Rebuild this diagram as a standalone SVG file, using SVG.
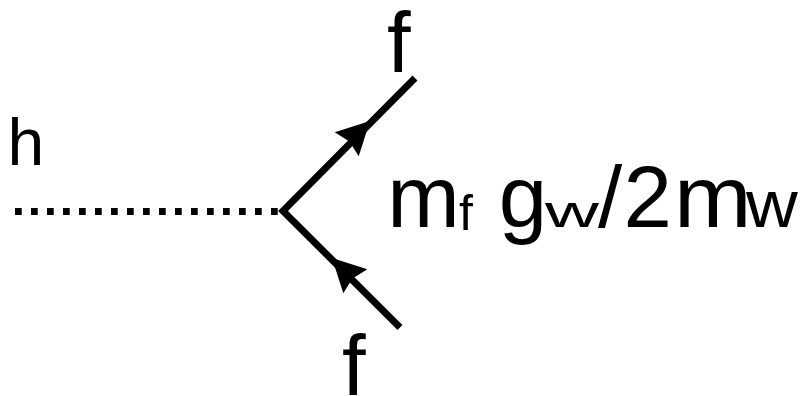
<svg xmlns="http://www.w3.org/2000/svg" width="803" height="396" viewBox="0 0 803 396">
<style>
.t{font-family:"Liberation Sans",Arial,sans-serif;fill:#000}
.ln{fill:none;stroke:#000;stroke-width:7;stroke-linecap:butt;stroke-linejoin:miter}
.dot{fill:none;stroke:#000;stroke-width:7;stroke-dasharray:6.7 9.3}
</style>
<defs>
<path id="ah" d="M0,0 L-33,-17 L-29,0 L-33,17 Z" fill="#000"/>
</defs>
<rect width="803" height="396" fill="#fff"/>
<g id="connectors">
<line class="dot" x1="15" y1="211.5" x2="281" y2="211.5"/>
<path class="ln" d="M415,78 L283,211 L400,327.5"/>
<use href="#ah" transform="translate(370,121) rotate(-45)"/>
<use href="#ah" transform="translate(332,258) rotate(-135)"/>
</g>
<g id="node-h"><text class="t" x="7.5" y="165" font-size="66">h</text></g>
<g id="node-f-top"><text class="t" x="387" y="72" font-size="85">f</text></g>
<g id="node-f-bottom"><text class="t" x="342" y="395" font-size="85">f</text></g>
<g id="label">
<text class="t" x="387.3" y="227" font-size="87">m</text>
<text class="t" x="459" y="230" font-size="50">f</text>
<text class="t" x="498.7" y="227" font-size="87">g</text>
<text class="t" transform="translate(545,227) scale(1.66,1)" font-size="45">w</text>
<text class="t" x="598" y="227" font-size="87">/</text>
<text class="t" x="623.5" y="227" font-size="87">2</text>
<text class="t" transform="translate(674,227) scale(1.07,1)" font-size="87">m<tspan x="67.3" font-size="67">w</tspan></text>
</g>
</svg>
